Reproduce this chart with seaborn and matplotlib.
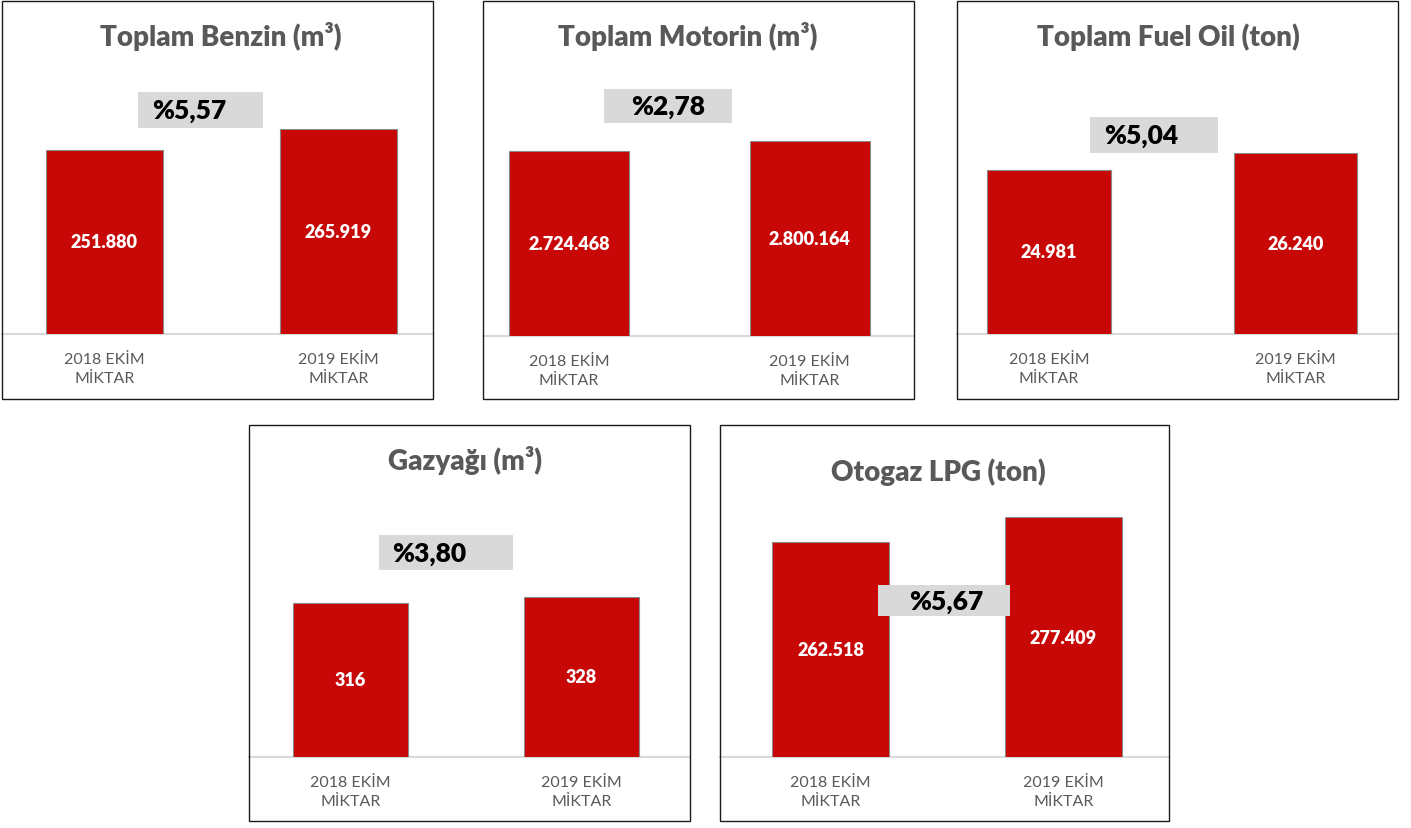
import matplotlib
matplotlib.use("Agg")
import matplotlib.pyplot as plt
from matplotlib.patches import Rectangle
import seaborn as sns

# ---------------- data ----------------
titles = ["Toplam Benzin (m³)", "Toplam Motorin (m³)", "Toplam Fuel Oil (ton)",
          "Gazyağı (m³)", "Otogaz LPG (ton)"]
categories = ["2018 EKİM\nMİKTAR", "2019 EKİM\nMİKTAR"]
benzin = [251880, 265919]
motorin = [2724468, 2800164]
fuel_oil = [24981, 26240]
gazyagi = [316, 328]
otogaz_lpg = [262518, 277409]
axis_min = [125000, 1400000, 12600, 0, 131000]
change_labels = ["%5,57", "%2,78", "%5,04", "%3,80", "%5,67"]
series = [benzin, motorin, fuel_oil, gazyagi, otogaz_lpg]

# ---------------- layout (pixels) ----------------
W, H = 1411, 829
panels = [(2, 2, 433, 400), (483, 2, 914, 400), (957, 2, 1398, 400),
          (249, 426, 690, 822), (720, 426, 1169, 822)]
baselines = [335, 337, 335, 758, 758]
bar_tops = [130.3, 141.7, 154, 597.7, 518.3]
centers = [(104.2, 338.3), (569, 809.7), (1049, 1295.5), (350.7, 581.3), (830.5, 1063.5)]
title_pos = [(221, 46), (688, 46), (1168, 46), (465, 470), (938, 481)]
boxes = [(138, 93, 263, 129), (604, 90, 732, 124), (1090, 118, 1218, 154),
         (379, 536, 513, 571), (878, 586, 1010, 617)]
pct_x = [152, 631, 1104, 392, 909]

RED = "#C80707"
GRAY_TXT = "#595959"

sns.set_theme(style="white")
plt.rcParams["font.family"] = ["Lato", "DejaVu Sans"]

fig = plt.figure(figsize=(W / 100, H / 100), dpi=100)
fig.patch.set_facecolor("white")


def fr(x0, y0, x1, y1):
    return [x0 / W, 1 - y1 / H, (x1 - x0) / W, (y1 - y0) / H]


for i, vals in enumerate(series):
    px0, py0, px1, py1 = panels[i]
    c0, c1 = centers[i]
    s = c1 - c0
    ax = fig.add_axes(fr(px0, bar_tops[i], px1, baselines[i]))
    ax.set_facecolor("none")
    sns.barplot(x=categories, y=vals, ax=ax, color=RED, width=0.5,
                edgecolor="#8a8a8a", linewidth=0.8, saturation=1)
    ax.set_xlim((px0 - c0) / s, (px1 - c0) / s)
    ax.set_ylim(axis_min[i], max(vals))
    ax.set_yticks([])
    ax.set_ylabel("")
    for sp in ["top", "left", "right"]:
        ax.spines[sp].set_visible(False)
    ax.spines["bottom"].set_color("#d9d9d9")
    ax.spines["bottom"].set_linewidth(1.5)
    ax.spines["bottom"].set_zorder(0)
    ax.tick_params(axis="x", length=0, pad=13, labelsize=11.5, labelcolor=GRAY_TXT)
    for lab in ax.get_xticklabels():
        lab.set_linespacing(1.45)
    for j, v in enumerate(vals):
        ax.text(j, (axis_min[i] + v) / 2, f"{v:,}".replace(",", "."),
                ha="center", va="center", color="white", fontsize=13,
                fontweight="heavy")

# overlay in pixel coordinates
ov = fig.add_axes([0, 0, 1, 1], zorder=5)
ov.set_facecolor("none")
ov.set_xlim(0, W)
ov.set_ylim(H, 0)
ov.axis("off")
for i in range(len(series)):
    px0, py0, px1, py1 = panels[i]
    ov.add_patch(Rectangle((px0, py0), px1 - px0, py1 - py0, fill=False,
                           edgecolor="#1a1a1a", linewidth=1.0))
    tx, ty = title_pos[i]
    ov.text(tx, ty, titles[i], ha="center", va="baseline", fontsize=20,
            fontweight="heavy", color=GRAY_TXT)
    bx0, by0, bx1, by1 = boxes[i]
    ov.add_patch(Rectangle((bx0, by0), bx1 - bx0, by1 - by0,
                           facecolor="#D9D9D9", edgecolor="none"))
    ov.text(pct_x[i], (by0 + by1) / 2, change_labels[i], ha="left",
            va="center", fontsize=19, fontweight="heavy", color="black")

fig.savefig("out.png", dpi=100, facecolor="white")
